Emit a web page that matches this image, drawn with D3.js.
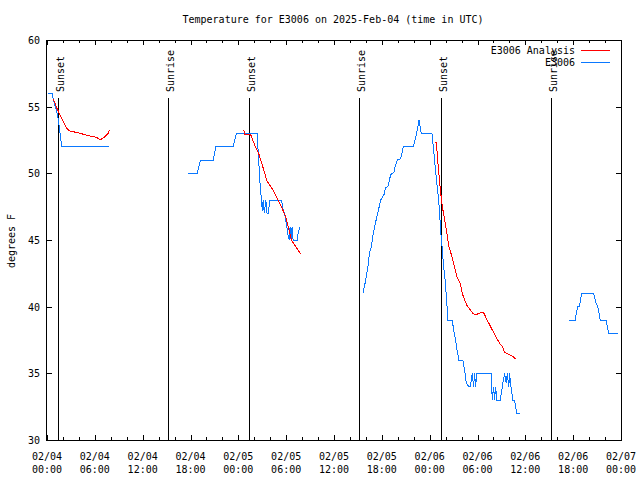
<!DOCTYPE html>
<html><head><meta charset="utf-8">
<script src="https://cdn.jsdelivr.net/npm/d3@7"></script>
<style>
body{margin:0;background:#fff}
svg{display:block}
text{font-family:"DejaVu Sans Mono",monospace;font-size:10px;fill:#000}
</style>
</head><body><svg id="c" width="640" height="480"></svg>
<script>
// ---- data (hours since 2025-02-04 00:00 UTC, degrees F) ----
const titleText = "Temperature for E3006 on 2025-Feb-04 (time in UTC)";
const yLabelText = "degrees F";
const seriesNames = ["E3006 Analysis", "E3006"];
const yTickValues = [30, 35, 40, 45, 50, 55, 60];
const sunLabels = ["Sunset", "Sunrise", "Sunset", "Sunrise", "Sunset", "Sunrise"];
const sunHours = [1.35, 15.22, 25.37, 39.15, 49.39, 63.2];

const obsSeg1 = [[0.17,56],[0.66,56],[0.79,55.5],[1.0,55.1],[1.22,54.6],[1.42,54],[1.54,53.5],[1.63,53],[1.75,52.5],[1.79,52],[7.81,52]];
const obsSeg2 = [[17.71,50],[18.83,50],[19.26,51],[20.84,51],[21.18,52],[23.35,52],[23.77,53],[26.35,53],[26.5,51.5],[26.75,49],[26.9,48],[27.0,47.2],[27.12,48],[27.25,47],[27.45,48],[27.6,47],[27.75,47],[27.95,48],[29.41,48],[29.6,47.3],[29.8,47],[30.0,46.3],[30.2,45.5],[30.37,45],[30.5,46],[30.62,45],[30.75,46],[30.87,45],[31.37,45],[31.5,45.5],[31.71,46]];
const obsSeg3 = [[39.64,41],[39.98,42],[40.27,43.1],[40.44,44],[40.69,44.5],[40.86,45.25],[41.19,46.25],[41.52,47.1],[41.86,48],[42.27,48.4],[42.45,48.9],[42.77,49.05],[43.11,49.9],[43.52,50.1],[43.7,50.6],[43.95,51],[44.36,51.1],[44.7,52],[45.95,52],[46.2,52.6],[46.37,53],[46.66,54],[46.87,53.25],[46.96,53],[48.29,53],[48.54,51.5],[48.71,50.4],[48.87,49.4],[49.04,48.5],[49.16,47.75],[49.25,47],[49.37,45.75],[49.56,44.5],[49.75,43],[49.94,42],[50.13,40.5],[50.29,39],[50.84,39],[51.0,38.25],[51.25,37.5],[51.42,36.75],[51.67,36],[52.17,36],[52.38,35.25],[52.59,34.25],[52.92,34],[53.1,34],[53.35,35],[53.51,34],[53.64,35],[53.76,34],[53.92,35],[55.73,35],[55.85,33],[56.02,34],[56.14,33],[56.27,34],[56.43,33],[56.86,33],[56.98,33.5],[57.18,34.25],[57.4,35],[57.61,34.25],[57.73,35],[57.93,34],[58.02,35],[58.24,33.75],[58.44,33],[58.65,33],[58.77,32.5],[58.94,32],[59.28,32]];
const obsSeg4 = [[65.54,39],[66.29,39],[66.38,39.5],[66.58,40],[66.8,40],[66.88,40.4],[67.09,41],[68.55,41],[68.67,40.75],[68.89,40.25],[69.09,40],[69.21,39.6],[69.39,39],[70.14,39],[70.21,38.75],[70.46,38],[71.59,38]];

const anaSeg1 = [[0.79,55.6],[1.22,54.9],[1.63,54.4],[2.04,53.9],[2.47,53.4],[2.76,53.2],[4.14,53.0],[5.39,52.8],[6.23,52.7],[6.64,52.5],[7.27,52.75],[7.68,53.0],[7.81,53.25]];
const anaSeg2 = [[24.69,53.25],[24.81,52.88],[25.56,52.88],[26.07,52.1],[26.6,51.4],[27.19,50.25],[27.61,49.4],[28.36,48.75],[29.2,47.75],[29.95,46.75],[30.36,45.75],[30.66,45.0],[31.49,44.25],[31.79,43.95]];
const anaSeg3 = [[48.62,52.33],[48.84,52.33],[49.04,50.75],[49.34,48.75],[49.59,47.5],[49.88,46.5],[50.16,45.5],[50.42,44.5],[50.72,43.9],[51.0,43.25],[51.42,42.25],[51.84,41.75],[52.09,41.0],[52.38,40.5],[52.67,40.1],[53.42,39.5],[53.76,39.4],[54.48,39.55],[54.76,39.55],[55.3,38.9],[55.86,38.25],[56.43,37.6],[56.77,37.25],[57.11,37.0],[57.4,36.6],[57.69,36.5],[58.44,36.25],[58.77,36.1]];

const obsSegments = [obsSeg1, obsSeg2, obsSeg3, obsSeg4];
const anaSegments = [anaSeg1, anaSeg2, anaSeg3];

// ---- drawing ----
const svg = d3.select("#c");
const L = 47, R = 621, T = 40, B = 440;
const base = Date.UTC(2025, 1, 4);
const toDate = h => new Date(base + h * 3600e3);
const x = d3.scaleUtc().domain([toDate(0), toDate(72)]).range([L, R]);
const y = d3.scaleLinear().domain([30, 60]).range([B, T]);
const red = "#ff0000", blue = "#0a78ff";

const majorTicks = d3.utcHour.every(6).range(toDate(0), toDate(72.01));
const minorTicks = d3.utcHour.every(2).range(toDate(0), toDate(72.01)).filter(d => d.getUTCHours() % 6 !== 0);

function hideDomain(g){ g.select(".domain").remove(); g.selectAll("line").attr("stroke","#000").attr("shape-rendering","crispEdges"); }

svg.append("g").attr("transform",`translate(0,${B})`)
  .call(d3.axisBottom(x).tickValues(majorTicks).tickSize(-5).tickFormat(""))
  .call(hideDomain);
svg.append("g").attr("transform",`translate(0,${B})`)
  .call(d3.axisBottom(x).tickValues(minorTicks).tickSize(-3).tickFormat(""))
  .call(hideDomain);
svg.append("g").attr("transform",`translate(0,${T})`)
  .call(d3.axisTop(x).tickValues(majorTicks).tickSize(-5).tickFormat(""))
  .call(hideDomain);
svg.append("g").attr("transform",`translate(0,${T})`)
  .call(d3.axisTop(x).tickValues(minorTicks).tickSize(-3).tickFormat(""))
  .call(hideDomain);

const fmtDate = d3.utcFormat("%m/%d"), fmtTime = d3.utcFormat("%H:%M");
const xl = svg.append("g");
majorTicks.forEach(d => {
  const t = xl.append("text").attr("text-anchor","middle");
  t.append("tspan").attr("x", x(d)).attr("y", 460).text(fmtDate(d));
  t.append("tspan").attr("x", x(d)).attr("y", 473).text(fmtTime(d));
});

svg.append("g").attr("transform",`translate(${L},0)`)
  .call(d3.axisLeft(y).tickValues(yTickValues).tickSize(-5).tickPadding(7))
  .call(hideDomain)
  .selectAll("text").attr("font-family","DejaVu Sans Mono").attr("font-size",10).attr("dy","0.35em");
svg.append("g").attr("transform",`translate(${R},0)`)
  .call(d3.axisRight(y).tickValues(yTickValues).tickSize(-5).tickFormat(""))
  .call(hideDomain);

// sun lines
sunHours.forEach((h, i) => {
  const sx = Math.round(x(toDate(h))) + 0.5;
  svg.append("line").attr("x1", sx).attr("x2", sx).attr("y1", 98).attr("y2", B)
    .attr("stroke","#000").attr("shape-rendering","crispEdges");
  svg.append("text").attr("transform",`translate(${sx + 5.5},92) rotate(-90)`).text(sunLabels[i]);
});

// series
const line = d3.line().x(d => x(toDate(d[0]))).y(d => y(d[1]));
obsSegments.forEach(s => svg.append("path").attr("d", line(s)).attr("fill","none")
  .attr("stroke", blue).attr("stroke-width",1).attr("shape-rendering","crispEdges"));
anaSegments.forEach(s => svg.append("path").attr("d", line(s)).attr("fill","none")
  .attr("stroke", red).attr("stroke-width",1).attr("shape-rendering","crispEdges"));

// border
svg.append("rect").attr("x", L - 0.5).attr("y", T + 0.5).attr("width", R - L + 1).attr("height", B - T)
  .attr("fill","none").attr("stroke","#000").attr("shape-rendering","crispEdges");

// legend
const legColors = [red, blue];
seriesNames.forEach((n, i) => {
  const ly = 50 + i * 12;
  svg.append("text").attr("x", 575).attr("y", ly).attr("dy","0.35em").attr("text-anchor","end").text(n);
  svg.append("line").attr("x1", 581).attr("x2", 610).attr("y1", ly + 0.5).attr("y2", ly + 0.5)
    .attr("stroke", legColors[i]).attr("shape-rendering","crispEdges");
});

// title and y label
svg.append("text").attr("x", 333).attr("y", 19).attr("dy","0.35em").attr("text-anchor","middle").text(titleText);
svg.append("text").attr("transform","translate(11,241) rotate(-90)").attr("text-anchor","middle").attr("dy","0.35em").text(yLabelText);
</script>
</body></html>
